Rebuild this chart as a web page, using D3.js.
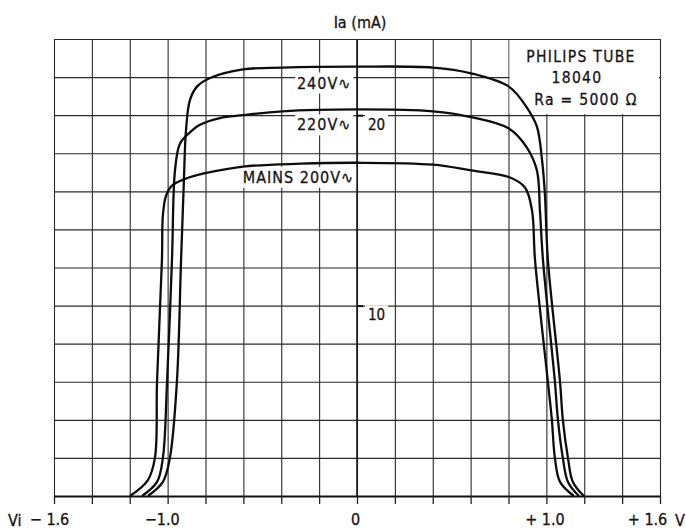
<!DOCTYPE html>
<html>
<head>
<meta charset="utf-8">
<script src="https://cdn.jsdelivr.net/npm/d3@7"></script>
<style>
  body { margin: 0; background: #fff; }
  text { font-family: "DejaVu Sans Condensed", "DejaVu Sans", sans-serif; fill: #151515; stroke: #151515; stroke-width: 0.3px; }
</style>
</head>
<body>
<svg id="chart"></svg>
<script>
// Vi (V) against Ia (mA)
const vi240 = [-1.104, -1.025, -0.988, -0.951, -0.929, -0.914, -0.903, -0.882, -0.845, -0.776, -0.602, -0.396, 0.0, 0.401, 0.602, 0.802, 0.897, 0.950, 0.977, 0.992, 1.008, 1.072, 1.087, 1.114, 1.140, 1.198];
const ia240 = [0, 0.74, 2.0, 6.0, 12.4, 16.6, 19.2, 20.8, 21.5, 21.95, 22.4, 22.5, 22.55, 22.5, 22.2, 21.5, 20.4, 19.4, 17.65, 15.9, 12.4, 6.0, 4.0, 2.0, 0.74, 0];

const vi220 = [-1.135, -1.056, -1.025, -1.003, -0.977, -0.961, -0.935, -0.882, -0.829, -0.724, -0.602, -0.396, 0.0, 0.401, 0.602, 0.802, 0.897, 0.950, 0.966, 0.982, 1.045, 1.061, 1.087, 1.114, 1.172];
const ia220 = [0, 0.74, 2.0, 6.0, 12.4, 17.1, 18.5, 19.1, 19.5, 19.85, 20.0, 20.2, 20.3, 20.2, 19.9, 19.3, 18.3, 17.1, 15.0, 12.4, 6.0, 4.0, 2.0, 0.74, 0];

const vi200 = [-1.199, -1.104, -1.067, -1.056, -1.030, -1.025, -1.009, -0.977, -0.908, -0.802, -0.602, -0.300, 0.0, 0.401, 0.602, 0.802, 0.887, 0.924, 0.940, 1.008, 1.029, 1.045, 1.072, 1.145];
const ia200 = [0, 0.84, 2.0, 6.0, 12.4, 14.75, 15.75, 16.3, 16.65, 16.95, 17.3, 17.45, 17.5, 17.4, 17.1, 16.75, 16.2, 15.0, 12.4, 6.0, 4.0, 2.0, 0.74, 0];

const curveLabels = ["240V\u223F", "220V\u223F", "MAINS 200V\u223F"];

const xTickValues = [-1.6, -1.0, 0, 1.0, 1.6];
const xTickLabels = ["\u2212 1.6", "\u22121.0", "0", "+ 1.0", "+ 1.6"];
const yTickValues = [10, 20];
const yTickLabels = ["10", "20"];

const boxLines = ["PHILIPS TUBE", "18040", "Ra = 5000 \u03A9"];

const W = 686, H = 530;
const margin = { top: 39, right: 26, bottom: 34, left: 54 };
const plotW = W - margin.left - margin.right;
const plotH = H - margin.top - margin.bottom;

const svg = d3.select("#chart").attr("width", W).attr("height", H);

const x = d3.scaleLinear().domain([-1.6, 1.6]).range([margin.left, margin.left + plotW]);
const y = d3.scaleLinear().domain([0, 24]).range([margin.top + plotH, margin.top]);

// grid every 0.2 V and every 2 mA
const vGrid = d3.range(17).map(i => -1.6 + i * 0.2);
const hGrid = d3.range(13).map(i => i * 2);

const grid = svg.append("g");
grid.append("g")
    .attr("transform", `translate(0,${margin.top + plotH})`)
    .call(d3.axisBottom(x).tickValues(vGrid).tickSize(-plotH).tickSizeOuter(0).tickFormat(""))
    .call(g => g.select(".domain").remove());
grid.append("g")
    .attr("transform", `translate(${margin.left},0)`)
    .call(d3.axisLeft(y).tickValues(hGrid).tickSize(-plotW).tickSizeOuter(0).tickFormat(""))
    .call(g => g.select(".domain").remove());
grid.selectAll("line").attr("stroke", "#2a2a2a").attr("stroke-width", 1.1);

// the I axis at Vi = 0 is drawn a bit heavier
grid.append("line")
    .attr("x1", x(0)).attr("x2", x(0))
    .attr("y1", y(24)).attr("y2", y(0))
    .attr("stroke", "#1a1a1a").attr("stroke-width", 1.6);

// blank panel for the tube data, top right
svg.append("rect")
    .attr("x", x(0.8) + 1).attr("y", y(24) + 1)
    .attr("width", x(1.6) - x(0.8) - 2).attr("height", y(20) - y(24) - 2)
    .attr("fill", "#fff");

const boxCx = [581, 577, 586];
const boxBase = [62, 83, 105];
svg.append("g").selectAll("text")
    .data(boxLines)
    .join("text")
    .attr("x", (d, i) => boxCx[i])
    .attr("y", (d, i) => boxBase[i])
    .attr("text-anchor", "middle")
    .attr("font-size", 15.5)
    .attr("letter-spacing", 1.3)
    .text(d => d);

// bottom axis with labels
const labelFor = v => {
    const i = xTickValues.findIndex(t => Math.abs(t - v) < 1e-6);
    return i < 0 ? "" : xTickLabels[i];
};
const near = (a, b) => Math.abs(a - b) < 1e-6;
const xAxis = svg.append("g")
    .attr("transform", `translate(0,${margin.top + plotH})`)
    .call(d3.axisBottom(x).tickValues(vGrid).tickSize(8).tickSizeOuter(0).tickPadding(10).tickFormat(labelFor));
xAxis.select(".domain").attr("stroke", "#111").attr("stroke-width", 2.2);
xAxis.selectAll(".tick line").attr("stroke", "#222").attr("stroke-width", 1.3);
xAxis.selectAll(".tick text")
    .attr("font-size", 16)
    .attr("font-family", "DejaVu Sans Condensed, DejaVu Sans, sans-serif")
    .attr("fill", "#151515")
    .attr("dx", d => near(d, -1.6) ? -5 : near(d, -1.0) ? -6 : near(d, 1.6) ? -13 : -2);

svg.append("text").attr("x", 8).attr("y", 526).attr("font-size", 16).text("Vi");
svg.append("text").attr("x", 675).attr("y", 526).attr("font-size", 16).text("V");

// axis title
svg.append("text")
    .attr("x", 360).attr("y", 28)
    .attr("text-anchor", "middle")
    .attr("font-size", 16)
    .text("Ia (mA)");

// Ia tick marks and labels on the centre line
const yAxis = svg.append("g")
    .attr("transform", `translate(${x(0)},0)`)
    .call(d3.axisRight(y).tickValues(yTickValues).tickSize(6).tickSizeOuter(0).tickPadding(5)
        .tickFormat((d, i) => yTickLabels[i]));
yAxis.select(".domain").remove();
yAxis.selectAll(".tick line").attr("stroke", "#111").attr("stroke-width", 2);
yAxis.selectAll(".tick text")
    .attr("font-size", 15)
    .attr("font-family", "DejaVu Sans Condensed, DejaVu Sans, sans-serif")
    .attr("fill", "#151515")
    .attr("dy", "0.95em");

// white patches behind labels that cut through grid lines
function knockout(sel, pad) {
    sel.each(function () {
        const b = this.getBBox();
        d3.select(this.parentNode).insert("rect", () => this)
            .attr("x", b.x - pad).attr("y", b.y - 1)
            .attr("width", b.width + pad * 2).attr("height", b.height + 2)
            .attr("fill", "#fff");
    });
}
knockout(yAxis.selectAll(".tick text"), 3);

// curves
const series = [
    { vi: vi240, ia: ia240 },
    { vi: vi220, ia: ia220 },
    { vi: vi200, ia: ia200 }
];
const line = d3.line().x(d => x(d[0])).y(d => y(d[1])).curve(d3.curveCatmullRom.alpha(0.5));

const labelG = svg.append("g");
const labelPos = [[-0.03, 21.4], [-0.03, 19.2], [-0.015, 16.45]];
labelG.selectAll("text")
    .data(curveLabels)
    .join("text")
    .attr("x", (d, i) => x(labelPos[i][0]))
    .attr("y", (d, i) => y(labelPos[i][1]))
    .attr("text-anchor", "end")
    .attr("font-size", 16)
    .attr("letter-spacing", 1)
    .text(d => d);
knockout(labelG.selectAll("text"), 2);

svg.append("g").selectAll("path")
    .data(series)
    .join("path")
    .attr("d", s => line(s.vi.map((v, i) => [v, s.ia[i]])))
    .attr("fill", "none")
    .attr("stroke", "#0d0d0d")
    .attr("stroke-width", 2.3)
    .attr("stroke-linejoin", "round");
</script>
</body>
</html>
